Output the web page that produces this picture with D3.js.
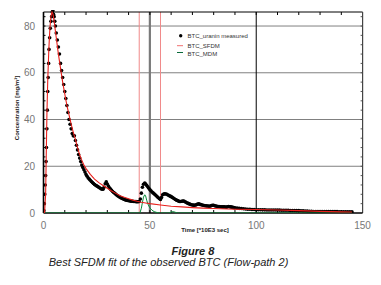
<!DOCTYPE html>
<html><head><meta charset="utf-8">
<script src="https://cdn.jsdelivr.net/npm/d3@7"></script>
<style>body{margin:0;background:#fff}svg{display:block}text{font-family:"Liberation Sans",Arial,sans-serif}</style>
</head><body>
<svg id="c" width="381" height="285"></svg>
<script>
// measured BTC (uranin): time [*10E3 s], concentration [mg/m3]
const measT = [0,0.2,0.4,0.6,0.8,1.0,1.2,1.4,1.6,1.8,2.0,2.2,2.4,2.6,2.9,3.2,3.5,3.8,4.1,4.4,4.7,5.0,5.3,5.6,6,6.5,7,7.5,8,8.5,9,9.5,10,10.5,11,11.5,12,12.5,13,13.5,14,14.5,15,15.5,16,16.5,17,17.5,18,18.5,19,19.5,
  20,20.5,21,21.5,22,22.5,23,23.5,24,24.5,25,25.5,26,26.5,27,27.5,28,28.5,29,29.5,30,30.5,31,31.5,32,32.5,33,33.5,34,34.5,35,35.5,36,36.5,37,37.5,38,38.5,39,39.5,
  40,40.5,41,41.5,42,42.5,43,43.5,44,44.5,45,45.5,46,46.5,47,47.6,48,48.5,49,49.5,50,50.5,51,51.5,52,52.5,53,53.5,54,54.5,55,55.5,56,56.5,57,57.5,58,58.5,59,59.5,
  60,60.5,61,61.5,62,62.5,63,63.5,64,64.5,65,65.5,66,66.5,67,67.5,68,68.5,69,69.5,70,70.5,71,71.5,72,72.5,73,73.5,74,74.5,75,75.5,76,76.5,77,77.5,78,78.5,79,79.5,
  80,80.5,81,81.5,82,82.5,83,83.5,84,84.5,85,85.5,86,86.5,87,87.5,88,88.5,89,89.5,90,91,92,93,94,95,96,97,98,99,
  100,101,102,103,104,105,106,107,108,109,110,111,112,113,114,115,116,117,118,119,120,121,122,123,124,125,126,127,128,129,
  130,131,132,133,134,135,136,137,138,139,140,141,142,143,144,145];
const measC = [0,1,4,8,12,16,22,28,36,44,52,58,64,70,75,79,82,84,86,86.5,85,84,82,80,77,74,71,68,64,61,58,55,52,49,46,43,40,38,36,34,33,33,31,29,27,25,23.5,22,20.5,19.5,18.5,17.5,
  16.5,15.7,15,14.5,14,13.5,13,12.6,12.2,11.9,11.6,11.3,11,10.7,10.4,10.2,10.2,11,12.5,13.3,12.4,11.5,10.8,10.2,9.7,9.2,8.8,8.4,8,7.6,7.3,7,6.7,6.4,6.2,6,5.8,5.6,5.5,5.4,
  5.3,5.2,5.1,5.05,5,4.95,4.9,4.85,4.8,4.8,4.9,6,8.5,11,12.3,12.8,12.4,11.8,11.2,10.6,10,9.5,9,8.6,8.2,7.8,7.4,6.9,6.5,6.1,5.8,6.6,7.8,8.1,8.2,8.1,8,7.7,7.5,7.2,
  7,6.7,6.4,6.1,5.8,5.5,5.3,5.1,4.9,4.9,5,5.1,5.1,4.8,4.6,4.3,4.1,3.9,3.7,3.5,3.4,3.35,3.3,3.4,3.6,3.8,3.9,3.7,3.6,3.4,3.3,3.2,3.1,3.05,3,2.95,2.9,3,3.2,3.3,
  3.3,3.1,3,2.9,2.8,2.75,2.7,2.65,2.6,2.6,2.6,2.55,2.5,2.7,2.8,2.7,2.6,2.5,2.4,2.3,2.2,2.1,2,1.9,1.8,1.7,1.6,1.6,1.5,1.5,
  1.4,1.4,1.4,1.35,1.35,1.3,1.3,1.3,1.3,1.3,1.25,1.25,1.2,1.2,1.15,1.15,1.1,1.1,1.05,1,1,0.95,0.9,0.85,0.8,0.75,0.7,0.65,0.6,0.6,
  0.6,0.6,0.6,0.6,0.6,0.6,0.6,0.6,0.6,0.55,0.55,0.5,0.5,0.5,0.5,0.5];
// SFDM fit
const sfdmT = [0,0.5,1,1.3,1.6,2,2.5,3,3.5,4,4.5,5,6,7,8,9,10,11,12,13,14,15,16,17,18,19,20,22,24,26,28,30,32,34,36,38,40,42,44,46,48,50,55,60,65,70,75,80,90,100,110,120,130,140,145];
const sfdmC = [0,0,8,25,42,57,70,79,84,86,85,82,75,68,62,56,51,46,42,38,34.5,31.5,28,25,22.5,20.5,19,16.5,14.5,13,11.8,10.6,9.4,8.4,7.4,6.7,6.1,5.5,5,4.6,4.3,4,3.4,2.9,2.6,2.3,2.1,1.9,1.6,1.5,1.3,1,0.7,0.5,0.4];
// MDM fit
const mdmT = [0,45,45.3,46,46.5,47,47.6,48,48.5,49,49.5,50,51,52,53,54,55,59,60,61,62,63,145];
const mdmC = [0,0,0,2,4.5,6.8,7.8,7.3,5.5,4,3,2.2,1.2,0.6,0.3,0.1,0,0,0.4,0.6,0.3,0,0];
const xTicks = [0,50,100,150];
const yTicks = [0,20,40,60,80];
const legendLabels = ["BTC_uranin measured","BTC_SFDM","BTC_MDM"];

const svg = d3.select("#c");
const L=43.5, R=362.6, T=12, B=213;
const x = d3.scaleLinear().domain([0,150]).range([L,R]);
const y = d3.scaleLinear().domain([0,86]).range([B,T]);

svg.append("defs").append("clipPath").attr("id","pc").append("rect")
  .attr("x",L).attr("y",T-2).attr("width",R-L).attr("height",B-T+2);

// horizontal gridlines
svg.append("g").selectAll("line").data([20,40,60,80]).join("line")
  .attr("x1",L).attr("x2",R).attr("y1",d=>y(d)).attr("y2",d=>y(d))
  .attr("stroke","#808080").attr("stroke-width",1);
// vertical lines
svg.append("line").attr("x1",x(50)).attr("x2",x(50)).attr("y1",T).attr("y2",B).attr("stroke","#7a7a7a").attr("stroke-width",2.2);
svg.append("line").attr("x1",x(100)).attr("x2",x(100)).attr("y1",T).attr("y2",B).attr("stroke","#000").attr("stroke-width",1);
svg.append("g").selectAll("line").data([45,55]).join("line")
  .attr("x1",d=>x(d)).attr("x2",d=>x(d)).attr("y1",T).attr("y2",B)
  .attr("stroke","#f08a8a").attr("stroke-width",1);

// minor ticks
const xt = d3.range(10,150,10), yt = d3.range(4,86,4);
const tg = svg.append("g").attr("stroke","#000").attr("stroke-width",1);
tg.selectAll(".tt").data(xt).join("line").attr("x1",d=>x(d)).attr("x2",d=>x(d)).attr("y1",T).attr("y2",T+3);
tg.selectAll(".bt").data(xt).join("line").attr("x1",d=>x(d)).attr("x2",d=>x(d)).attr("y1",B).attr("y2",B-3);
tg.selectAll(".lt").data(yt).join("line").attr("x1",L).attr("x2",L+2).attr("y1",d=>y(d)).attr("y2",d=>y(d));
tg.selectAll(".rt").data(yt).join("line").attr("x1",R).attr("x2",R-2).attr("y1",d=>y(d)).attr("y2",d=>y(d)).attr("stroke","#555");

// frame
svg.append("line").attr("x1",L).attr("x2",R).attr("y1",T).attr("y2",T).attr("stroke","#000");
svg.append("line").attr("x1",R).attr("x2",R).attr("y1",T).attr("y2",B).attr("stroke","#444").attr("stroke-width",1.2);
svg.append("line").attr("x1",L).attr("x2",L).attr("y1",T).attr("y2",B).attr("stroke","#000").attr("stroke-width",1.6);
svg.append("line").attr("x1",L).attr("x2",R).attr("y1",B).attr("y2",B).attr("stroke","#000").attr("stroke-width",1.6);

const plot = svg.append("g").attr("clip-path","url(#pc)");
const meas = measT.map((t,i)=>[t,measC[i]]);
plot.append("g").selectAll("circle").data(meas).join("circle")
  .attr("cx",d=>x(d[0])).attr("cy",d=>y(d[1])).attr("r",1.8).attr("fill","#000");
const line = d3.line().x(d=>x(d[0])).y(d=>y(d[1]));
plot.append("path").datum(mdmT.map((t,i)=>[t,mdmC[i]])).attr("d",line)
  .attr("fill","none").attr("stroke","#0a8a3a").attr("stroke-width",1);
plot.append("path").datum(sfdmT.map((t,i)=>[t,sfdmC[i]])).attr("d",line)
  .attr("fill","none").attr("stroke","#e8201c").attr("stroke-width",1.1);

// tick labels
svg.append("g").selectAll("text").data(xTicks).join("text")
  .attr("x",d=>x(d)).attr("y",229).attr("text-anchor","middle")
  .attr("font-size",10).attr("fill","#777").text(d=>d);
svg.append("g").selectAll("text").data(yTicks).join("text")
  .attr("x",35).attr("y",d=>y(d)+3.5).attr("text-anchor","end")
  .attr("font-size",10).attr("fill","#777").text(d=>d);

// axis titles
svg.append("text").attr("transform","translate(19,108) rotate(-90)").attr("text-anchor","middle")
  .attr("font-size",6).attr("font-weight","bold").attr("fill","#222").text("Concentration [mg/m³]");
svg.append("text").attr("x",205).attr("y",232).attr("text-anchor","middle")
  .attr("font-size",6).attr("font-weight","bold").attr("fill","#222").text("Time [*10E3 sec]");

// legend
const lg = svg.append("g");
lg.append("circle").attr("cx",180.7).attr("cy",35.7).attr("r",1.7).attr("fill","#000");
lg.append("line").attr("x1",177).attr("x2",183).attr("y1",45.7).attr("y2",45.7).attr("stroke","#f07070");
lg.append("line").attr("x1",177).attr("x2",183).attr("y1",52.5).attr("y2",52.5).attr("stroke","#0a6a3a");
lg.selectAll("text").data(legendLabels).join("text")
  .attr("x",187.5).attr("y",(d,i)=>[38,47.5,56][i]).attr("font-size",6).attr("fill","#333").text(d=>d);

// caption
svg.append("text").attr("x",193).attr("y",255).attr("text-anchor","middle")
  .attr("font-size",11).attr("font-weight","bold").attr("font-style","italic").attr("fill","#222").text("Figure 8");
svg.append("text").attr("x",168.5).attr("y",266).attr("text-anchor","middle")
  .attr("font-size",11).attr("font-style","italic").attr("fill","#222").text("Best SFDM fit of the observed BTC (Flow-path 2)");
</script>
</body></html>
